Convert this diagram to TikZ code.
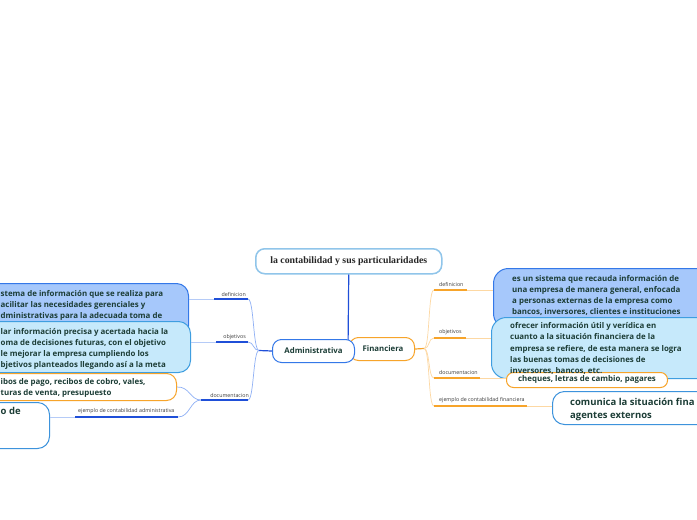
\documentclass[tikz,border=0pt]{standalone}
\usepackage{fontspec}
\setmainfont{Open Sans}
\newfontfamily\titlefont{Liberation Serif}
\definecolor{textc}{HTML}{1C3D36}
\definecolor{bluefill}{HTML}{A6C8FB}
\definecolor{blueline}{HTML}{3478E8}
\definecolor{lbluefill}{HTML}{C6E9FB}
\definecolor{lblueline}{HTML}{3F9EE0}
\definecolor{orangec}{HTML}{F7A42A}
\definecolor{exblue}{HTML}{3D93DC}
\definecolor{titleline}{HTML}{90C5EA}
\definecolor{darkblue}{HTML}{1F4FD8}
\definecolor{curveblue}{HTML}{8FB0F5}
\definecolor{extblue}{HTML}{B5CBF7}
\definecolor{curveorange}{HTML}{FDD8A3}
\definecolor{lblc}{HTML}{3A3A3A}
\begin{document}
\begin{tikzpicture}[x=1pt,y=-1pt,
  shapebox/.style={draw, rounded corners=12pt, line width=1pt, anchor=north west, inner sep=0pt},
  txt/.style={inner sep=0pt, align=left, anchor=north west, text=textc, font=\fontsize{7.9}{11}\selectfont\bfseries},
  bigtxt/.style={inner sep=0pt, align=left, anchor=north west, text=textc, font=\fontsize{9.5}{13}\selectfont\bfseries},
  lbl/.style={inner sep=0pt, text=lblc, font=\fontsize{5.3}{6}\selectfont},
  ulblue/.style={draw=darkblue, line width=1.3pt},
  ulorange/.style={draw=orangec, line width=1.3pt},
  cblue/.style={draw=curveblue, line width=0.7pt},
  eblue/.style={draw=extblue, line width=0.7pt},
  corange/.style={draw=curveorange, line width=0.7pt},
]
\useasboundingbox (0,0) rectangle (697,520);
\fill[white] (0,0) rectangle (697,520);

% title and its connector
\node[shapebox, draw=titleline, line width=1.5pt, fill=white, rounded corners=9pt,
  minimum width=186pt, minimum height=25pt] (title) at (255,248) {};
\node[inner sep=0pt, font=\titlefont\fontsize{9.8}{11}\selectfont\bfseries, text=black!85] (titletext) at (title.center) {la contabilidad y sus particularidades};
\coordinate (tend) at (348,350);
\draw[darkblue, line width=1.2pt] (title.south) -- (tend);

% main nodes
\node[shapebox, draw=orangec, fill=white, rounded corners=9pt, minimum width=65pt, minimum height=23pt] (fin) at (349,337) {};
\node[shapebox, draw=blueline, fill=white, rounded corners=9pt, minimum width=82pt, minimum height=23pt] (admin) at (272,339) {};
\node[inner sep=0pt, text=textc, font=\fontsize{7.8}{9}\selectfont\bfseries] (admintext) at (admin.center) {Administrativa};
\node[inner sep=0pt, text=textc, font=\fontsize{7.8}{9}\selectfont\bfseries] (fintext) at ([xshift=1pt]fin.center) {Financiera};

% ---------- left side ----------
\coordinate (ljn) at (259,350.5);
\draw[darkblue, line width=1.2pt] (admin.west) -- (ljn);

\node[shapebox, draw=blueline, fill=bluefill, minimum width=228pt, minimum height=55pt] (ldef) at (-40,283) {};
\node[txt] (ldeft) at (0.5,290) {stema de información que se realiza para\\acilitar las necesidades gerenciales y\\dministrativas para la adecuada toma de};
\node[shapebox, draw=lblueline, fill=lbluefill, minimum width=230pt, minimum height=51pt] (lobj) at (-40,321) {};
\node[txt] (lobjt) at (0.5,328.5) {lar información precisa y acertada hacia la\\oma de decisiones futuras, con el objetivo\\le mejorar la empresa cumpliendo los\\bjetivos planteados llegando así a la meta};
\node[shapebox, draw=orangec, fill=white, rounded corners=10pt, minimum width=216pt, minimum height=27pt] (ldoc) at (-40,373) {};
\node[txt] (ldoct) at (0.5,378.5) {ibos de pago, recibos de cobro, vales,\\turas de venta, presupuesto};
\node[shapebox, draw=exblue, fill=white, minimum width=89pt, minimum height=46pt] (lex) at (-40,402) {};
\node[bigtxt] (lext) at (0.5,407) {o de};

\coordinate (ud1a) at (214,299); \coordinate (ud1b) at (248,299);
\coordinate (uo1a) at (216,342); \coordinate (uo1b) at (248,342);
\coordinate (udc1a) at (201,400); \coordinate (udc1b) at (248,400);
\coordinate (uex1a) at (75,417); \coordinate (uex1b) at (178,417);

\draw[cblue] (ljn) .. controls (253,350.5) and (254,299) .. (ud1b);
\draw[cblue] (ljn) .. controls (253,350.5) and (254,342) .. (uo1b);
\draw[cblue] (ljn) .. controls (253,350.5) and (254,400) .. (udc1b);
\draw[cblue] (udc1a) .. controls (190,400) and (190,386.5) .. (ldoc.east);
\draw[cblue] (udc1a) .. controls (190,400) and (190,417) .. (uex1b);
\draw[eblue] (ud1a) -- (ldef.east |- ud1a);
\draw[eblue] (uo1a) -- (lobj.east |- uo1a);
\draw[eblue] (uex1a) -- (lex.east |- uex1a);
\draw[ulblue] (ud1a) -- (ud1b);
\draw[ulblue] (uo1a) -- (uo1b);
\draw[ulblue] (udc1a) -- (udc1b);
\draw[ulblue] (uex1a) -- (uex1b);

\node[lbl, anchor=east] (ldefl) at (246,294.5) {definicion};
\node[lbl, anchor=east] (lobjl) at (246,337.5) {objetivos};
\node[lbl, anchor=east] (ldocl) at (249,395.5) {documentacion};
\node[lbl, anchor=west] (lexl) at (78,411.5) {ejemplo de contabilidad administrativa};

% ---------- right side ----------
\coordinate (rjn) at (424,348.5);
\draw[orangec, line width=1.2pt] (fin.east) -- (rjn);

\node[shapebox, draw=blueline, fill=bluefill, rounded corners=15pt, minimum width=250pt, minimum height=60pt] (rdef) at (493,268) {};
\node[txt] (rdeft) at (512,275.5) {es un sistema que recauda información de\\una empresa de manera general, enfocada\\a personas externas de la empresa como\\bancos, inversores, clientes e instituciones};
\node[shapebox, draw=lblueline, fill=lbluefill, rounded corners=15pt, minimum width=250pt, minimum height=61pt] (robj) at (491,317) {};
\node[shapebox, draw=orangec, fill=white, rounded corners=7pt, minimum width=161pt, minimum height=15pt] (rdoc) at (506,372) {};
\node[txt, font=\fontsize{7.9}{11.2}\selectfont\bfseries] (robjt) at (510,322.5) {ofrecer información útil y verídica en\\cuanto a la situación financiera de la\\empresa se refiere, de esta manera se logra\\las buenas tomas de decisiones de\\inversores, bancos, etc.};
\node[inner sep=0pt, text=textc, font=\fontsize{7.9}{9}\selectfont\bfseries] (rdoct) at ([yshift=0.5pt]rdoc.center) {cheques, letras de cambio, pagares};
\node[shapebox, draw=exblue, fill=white, minimum width=190pt, minimum height=33pt] (rex) at (552,391) {};
\node[bigtxt] (rext) at (570,398) {comunica la situación fina\\agentes externos};

\coordinate (rd1a) at (434,290); \coordinate (rd1b) at (467,290);
\coordinate (ro1a) at (434,338); \coordinate (ro1b) at (466,338);
\coordinate (rdc1a) at (434,378); \coordinate (rdc1b) at (480,378);
\coordinate (rex1a) at (434,406); \coordinate (rex1b) at (527,406);

\draw[corange] (rjn) .. controls (430,348.5) and (428,290) .. (rd1a);
\draw[corange] (rjn) .. controls (430,348.5) and (428,338) .. (ro1a);
\draw[corange] (rjn) .. controls (430,348.5) and (428,378) .. (rdc1a);
\draw[corange] (rjn) .. controls (430,348.5) and (428,406) .. (rex1a);
\draw[corange] (rd1b) -- (rdef.west |- rd1b);
\draw[corange] (ro1b) -- (robj.west |- ro1b);
\draw[corange] (rdc1b) -- (rdoc.west |- rdc1b);
\draw[corange] (rex1b) -- (rex.west |- rex1b);
\draw[ulorange] (rd1a) -- (rd1b);
\draw[ulorange] (ro1a) -- (ro1b);
\draw[ulorange] (rdc1a) -- (rdc1b);
\draw[ulorange] (rex1a) -- (rex1b);

\node[lbl, anchor=west] (rdefl) at (439,284.5) {definicion};
\node[lbl, anchor=west] (robjl) at (439,332.5) {objetivos};
\node[lbl, anchor=west] (rdocl) at (439,372.5) {documentacion};
\node[lbl, anchor=west] (rexl) at (439,400.5) {ejemplo de contabilidad financiera};
\end{tikzpicture}
\end{document}
